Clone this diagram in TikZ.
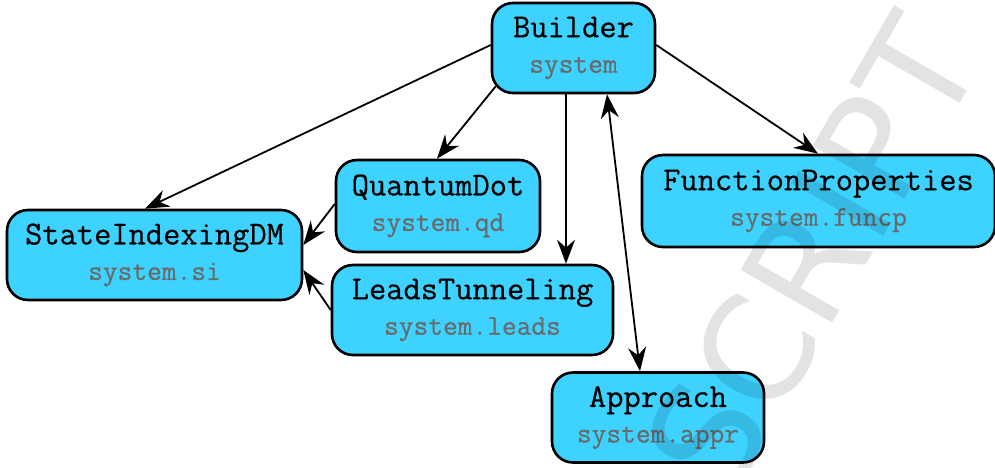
\documentclass[tikz,border=0pt]{standalone}
\usepackage{fontspec}
\usetikzlibrary{arrows.meta}
\newfontfamily\boxfont{Latin Modern Mono}[FakeBold=0.5]
\newfontfamily\wmfont{DejaVu Sans}
\definecolor{boxcyan}{HTML}{3DD2FF}
\definecolor{subgray}{HTML}{6A6A6A}
\pgfdeclarelayer{bg}
\pgfsetlayers{bg,main}
\newcommand\modtext[2]{#1\\{\color{subgray}\fontsize{28.6}{35.5}\selectfont #2}}
\begin{document}
\begin{tikzpicture}[x=1pt,y=-1pt,
  mod/.style={draw=black, line width=2.6pt, fill=boxcyan, rounded corners=21pt,
    minimum height=90pt, inner sep=0pt, align=center,
    font=\boxfont\fontsize{33.5}{35.5}\selectfont},
  edge/.style={line width=1.8pt, -{Stealth[length=24pt,width=18pt,inset=8pt]}},
  dedge/.style={line width=1.8pt, {Stealth[length=24pt,width=18pt,inset=8pt]}-{Stealth[length=24pt,width=18pt,inset=8pt]}},
]
\useasboundingbox (0,0) rectangle (995,467);
\node[mod, minimum width=163pt] (builder) at (573.5,48) {\modtext{Builder}{system}};
\node[mod, minimum width=295pt] (si) at (154.5,255) {\modtext{StateIndexingDM}{system.si}};
\node[mod, minimum width=204pt, minimum height=92pt] (qd) at (438,206) {\modtext{QuantumDot}{system.qd}};
\node[mod, minimum width=281pt] (lt) at (472.5,310) {\modtext{LeadsTunneling}{system.leads}};
\node[mod, minimum width=353pt, minimum height=92pt] (fp) at (818.5,201) {\modtext{FunctionProperties}{system.funcp}};
\node[mod, minimum width=212pt] (appr) at (658,417.5) {\modtext{Approach}{system.appr}};
\begin{pgfonlayer}{bg}
\draw[edge] ([yshift=3pt]builder.west) -- ([xshift=-9.5pt]si.north);
\draw[edge] ([xshift=5pt,yshift=8pt]builder.south west) -- ([xshift=-1pt]qd.north);
\draw[edge] ([xshift=-7.5pt]builder.south) -- ([xshift=93.5pt]lt.north);
\draw[dedge] ([xshift=33.5pt]builder.south) -- ([xshift=-18pt]appr.north);
\draw[edge] ([yshift=3pt]builder.east) -- ([xshift=-0.5pt]fp.north);
\draw[edge] ([yshift=2pt]qd.west) -- ([yshift=10pt]si.east);
\draw[edge] (lt.west) -- ([yshift=-15pt]si.east);
\end{pgfonlayer}
\node[font=\wmfont\fontsize{145}{145}\selectfont, text=black, text opacity=0.11,
  rotate=60, anchor=base west, inner sep=0pt] (wm) at (729,503) {SCRIPT};
\end{tikzpicture}
\end{document}
